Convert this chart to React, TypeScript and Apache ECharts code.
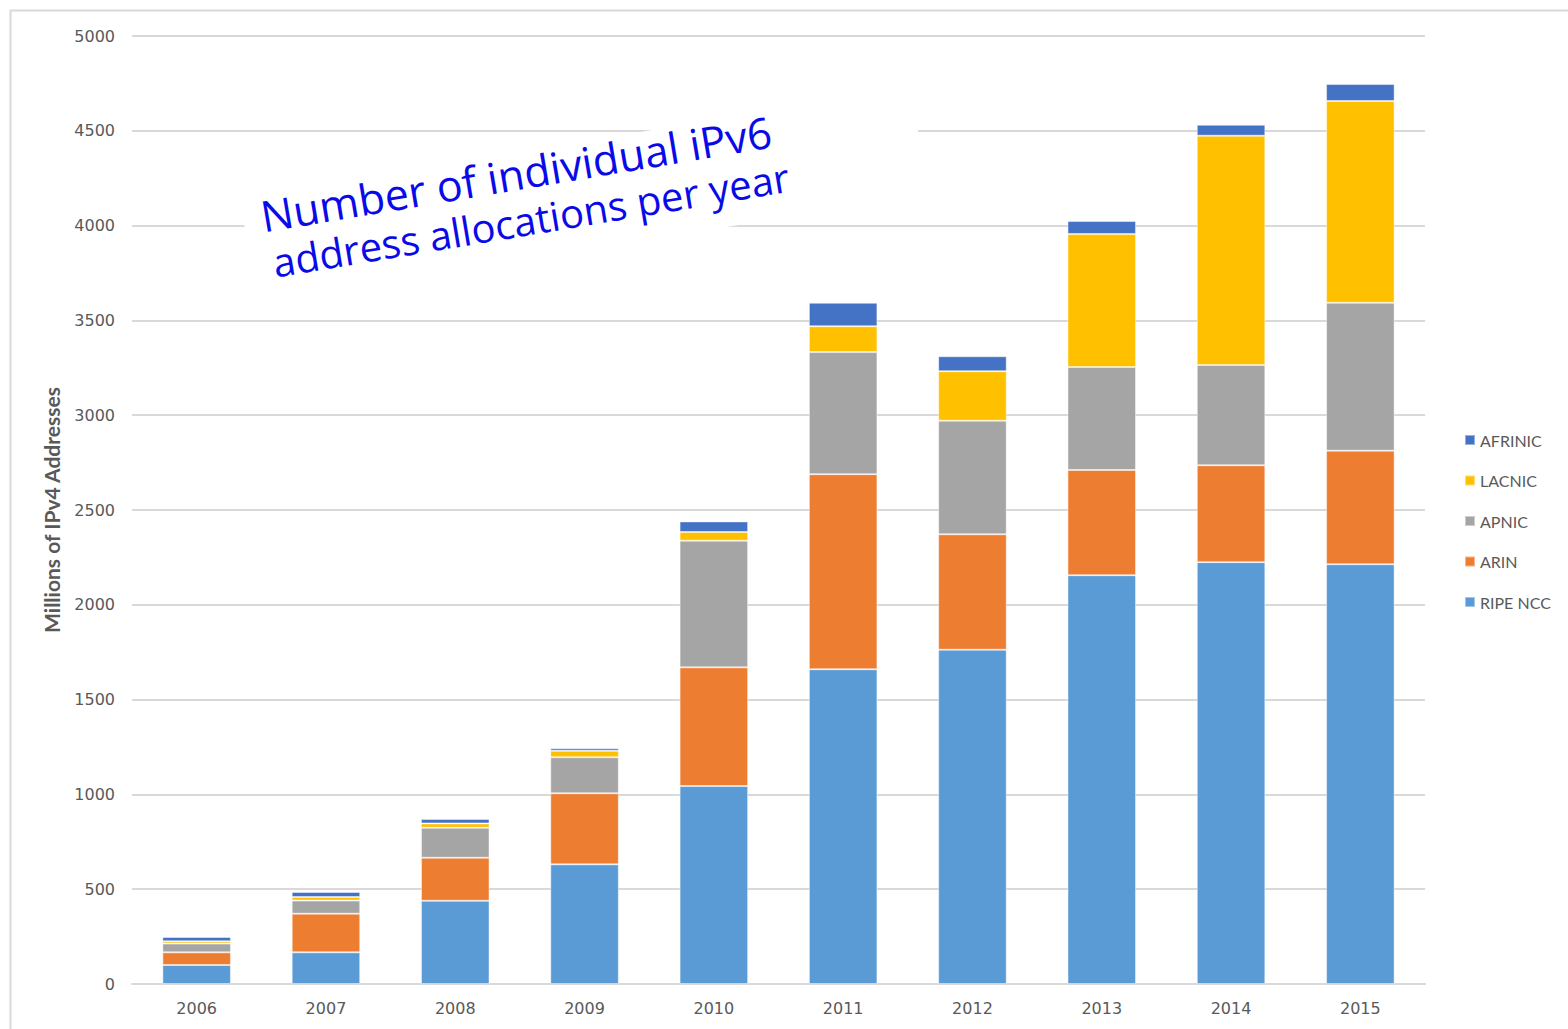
import React, { useEffect, useRef } from "react";
import * as echarts from "echarts";

const years = ["2006", "2007", "2008", "2009", "2010", "2011", "2012", "2013", "2014", "2015"];
const ripeNcc = [100, 167, 439, 631, 1044, 1660, 1763, 2156, 2225, 2214];
const arin = [67, 204, 227, 375, 626, 1029, 609, 555, 511, 599];
const apnic = [46, 69, 158, 190, 668, 644, 599, 543, 529, 780];
const lacnic = [12, 19, 23, 34, 46, 136, 261, 702, 1209, 1064];
const afrinic = [23, 26, 23, 13, 56, 124, 79, 68, 58, 90];
const yTicks = [0, 500, 1000, 1500, 2000, 2500, 3000, 3500, 4000, 4500, 5000];

const seriesDefs = [
  { name: "RIPE NCC", data: ripeNcc, color: "#5B9BD5" },
  { name: "ARIN", data: arin, color: "#ED7D31" },
  { name: "APNIC", data: apnic, color: "#A5A5A5" },
  { name: "LACNIC", data: lacnic, color: "#FFC000" },
  { name: "AFRINIC", data: afrinic, color: "#4472C4" },
];

const titleLine1 = "Number of individual iPv6";
const titleLine2 = "address allocations per year";

export default function App() {
  const ref = useRef<HTMLDivElement>(null);
  useEffect(() => {
    if (!ref.current) return;
    const chart = echarts.init(ref.current, undefined, { renderer: "svg" });
    const theta = (9.5 * Math.PI) / 180;
    chart.setOption({
      animation: false,
      backgroundColor: "#ffffff",
      grid: { left: 132, right: 143, top: 36, bottom: 45, containLabel: false },
      legend: {
        orient: "vertical",
        left: 1459,
        top: 427,
        itemWidth: 10,
        itemHeight: 10,
        itemGap: 24.5,
        icon: "rect",
        data: ["AFRINIC", "LACNIC", "APNIC", "ARIN", "RIPE NCC"],
        textStyle: { color: "#595959", fontSize: 16, fontFamily: "Lato" },
      },
      xAxis: {
        type: "category",
        data: years,
        axisLine: { show: true, lineStyle: { color: "#d9d9d9", width: 2 } },
        axisTick: { show: false },
        axisLabel: { color: "#595959", fontSize: 16, fontFamily: "DejaVu Sans", margin: 16 },
      },
      yAxis: {
        type: "value",
        min: yTicks[0],
        max: yTicks[yTicks.length - 1],
        interval: 500,
        name: "Millions of IPv4 Addresses",
        nameLocation: "middle",
        nameGap: 70,
        nameTextStyle: { color: "#595959", fontSize: 21, fontWeight: "bold", fontFamily: "Lato" },
        axisLine: { show: false },
        axisTick: { show: false },
        splitLine: { lineStyle: { color: "#d9d9d9", width: 2 } },
        axisLabel: {
          color: "#595959",
          fontSize: 16,
          fontFamily: "DejaVu Sans",
          margin: 17,
          formatter: (v: number) => String(v),
        },
      },
      series: seriesDefs.map((s) => ({
        name: s.name,
        type: "bar",
        stack: "total",
        data: s.data,
        barCategoryGap: "47%",
        itemStyle: { color: s.color, borderColor: "rgba(255,255,255,0.45)", borderWidth: 1 },
      })),
      graphic: [
        {
          type: "rect",
          left: 8,
          top: 8,
          z: 100,
          shape: { x: 0, y: 0, width: 1600, height: 1100 },
          style: { fill: "none", stroke: "#d9d9d9", lineWidth: 2 },
          silent: true,
        },
        {
          type: "group",
          x: 240,
          y: 199,
          rotation: theta,
          z: 100,
          children: [
            {
              type: "rect",
              z: 100,
              shape: { x: 0, y: 0, width: 680, height: 108 },
              style: { fill: "#ffffff" },
            },
            {
              type: "text",
              z: 101,
              x: 18,
              y: 42,
              style: {
                text: titleLine1,
                fill: "#0a0ae8",
                fontSize: 43,
                fontFamily: "Open Sans",
                textVerticalAlign: "bottom",
              },
            },
            {
              type: "text",
              z: 101,
              x: 22,
              y: 88,
              style: {
                text: titleLine2,
                fill: "#0a0ae8",
                fontSize: 40,
                fontFamily: "Open Sans",
                textVerticalAlign: "bottom",
              },
            },
          ],
        },
      ],
    });
    return () => chart.dispose();
  }, []);
  return (
    <div
      ref={ref}
      style={{ position: "absolute", left: 0, top: 0, width: 1568, height: 1029 }}
    />
  );
}
